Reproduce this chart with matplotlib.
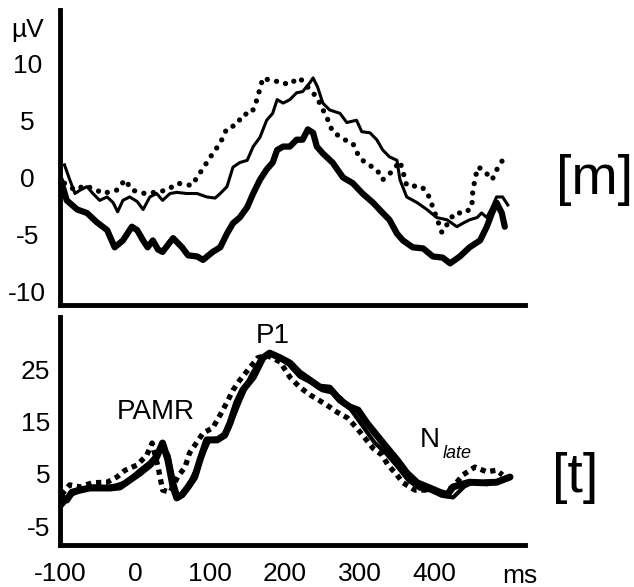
import numpy as np
import matplotlib
matplotlib.use("Agg")
import matplotlib.pyplot as plt

plt.rcParams['font.family'] = ['Liberation Sans', 'DejaVu Sans']

# ---- panel [m] (uV) ----
m_thick_t = [-99, -91, -77, -64, -51, -37, -27, -16, -4, 3, 11, 17, 24, 31, 37, 51, 63, 71,
             83, 91, 104, 114, 123, 131, 140, 150, 158, 167, 176, 184, 190, 198, 207, 216,
             224, 231, 238, 243, 251, 264, 278, 291, 304, 318, 331, 340, 350, 358, 371,
             385, 398, 411, 421, 434, 447, 461, 470, 477, 483, 490, 494]
m_thick_v = [-0.2, -2.0, -2.8, -3.1, -3.9, -4.6, -6.1, -5.5, -4.3, -4.6, -5.5, -6.1, -5.5,
             -6.3, -6.5, -5.3, -6.1, -6.8, -6.9, -7.2, -6.5, -6.1, -4.9, -4.0, -3.5, -2.6,
             -1.4, -0.2, 0.7, 1.3, 2.4, 2.7, 2.7, 3.3, 3.3, 4.2, 3.9, 2.7, 2.1, 1.3, 0.0,
             -0.5, -1.4, -2.2, -3.1, -3.7, -4.9, -5.5, -6.1, -6.2, -6.9, -7.0, -7.5, -6.9,
             -6.1, -5.5, -4.3, -3.1, -2.2, -3.1, -4.3]

m_thin_t = [-94, -87, -80, -73, -64, -56, -47, -37, -29, -23, -16, -7, 3, 11, 20, 29, 37, 47,
            56, 69, 83, 96, 107, 114, 123, 131, 140, 150, 158, 167, 176, 184, 190, 198, 207,
            216, 224, 234, 238, 244, 251, 260, 274, 283, 296, 303, 314, 323, 331, 340, 350,
            354, 363, 377, 390, 403, 417, 430, 438, 447, 457, 463, 470, 477, 483, 491, 498]
m_thin_v = [1.1, -0.2, -1.4, -1.1, -0.8, -1.4, -2.0, -1.7, -2.2, -3.0, -2.0, -1.7, -2.1,
            -2.8, -1.7, -1.4, -2.0, -1.4, -1.3, -1.4, -1.4, -1.7, -1.8, -1.4, -0.8, 0.9,
            1.3, 1.5, 2.7, 3.5, 5.0, 5.6, 6.8, 6.5, 6.8, 7.4, 7.5, 8.3, 8.7, 7.9, 6.5, 5.9,
            5.6, 4.8, 5.0, 4.0, 3.9, 3.3, 2.4, 1.8, 1.5, -0.2, -1.7, -2.2, -2.8, -3.5,
            -3.7, -4.3, -4.0, -3.7, -3.5, -3.1, -3.5, -2.6, -1.7, -1.7, -2.4]

m_dot_t = [-94, -80, -67, -51, -43, -24, -13, -4, 13, 27, 43, 57, 76, 87, 96, 104, 114,
           123, 136, 144, 156, 163, 171, 184, 196, 204, 220, 243, 258, 264, 280, 291, 298,
           307, 323, 331, 343, 354, 358, 363, 383, 391, 398, 410, 418, 427, 441, 450, 451,
           454, 458, 465, 477, 485, 494]
m_dot_v = [-0.5, -1.1, -0.7, -1.1, -1.4, -1.1, -0.2, -1.1, -1.4, -1.3, -1.1, -0.5, -0.7,
           0.4, 1.3, 2.1, 3.0, 4.3, 4.6, 5.5, 5.6, 6.8, 8.7, 8.4, 8.4, 8.1, 8.7, 7.0, 5.0,
           4.0, 3.3, 3.0, 2.0, 1.3, 0.7, -0.2, 0.5, 1.4, 0.5, -0.7, -0.8, -1.4, -2.6,
           -4.8, -4.0, -3.1, -3.1, -2.6, -1.4, -0.2, 0.9, 0.7, -0.2, 0.9, 1.8]

# ---- panel [t] ----
t_thick_t = [-98, -91, -84, -73, -60, -47, -33, -20, -7, 7, 20, 29, 37, 44, 51, 56, 63, 71,
             80, 87, 96, 110, 120, 127, 136, 144, 158, 171, 180, 194, 207, 220, 234, 247,
             260, 274, 287, 298, 310, 323, 336, 350, 363, 377, 394, 407, 417, 425, 434,
             447, 465, 483, 501]
t_thick_v = [0.6, 0.0, 1.5, 1.9, 2.3, 2.3, 2.3, 2.5, 3.8, 5.2, 6.7, 8.2, 10.9, 7.7, 2.5,
             0.4, 1.0, 2.5, 4.4, 7.7, 11.5, 11.5, 12.4, 14.7, 18.6, 21.0, 23.5, 27.2, 28.1,
             27.2, 26.2, 24.3, 22.9, 21.6, 21.4, 19.1, 17.8, 17.2, 14.7, 12.4, 10.1, 7.7,
             5.2, 3.3, 2.3, 1.5, 1.0, 2.5, 2.9, 3.4, 3.3, 3.4, 4.4]

t_thin_t = [-97, -85, -70, -55, -40, -25, -10, 5, 20, 30, 38, 45, 52, 58, 65, 75, 88, 100,
            112, 125, 140, 155, 168, 178, 190, 205, 220, 235, 250, 262, 275, 290, 305, 320,
            335, 350, 365, 380, 395, 410, 425, 440, 455, 470, 485, 500]
t_thin_v = [-1.0, 1.0, 2.0, 2.6, 2.4, 2.8, 3.5, 5.5, 7.2, 8.8, 10.2, 8.5, 3.5, 0.6, 1.5,
            3.8, 7.8, 11.6, 11.8, 13.5, 18.8, 23.8, 27.0, 28.0, 27.4, 26.0, 23.6, 22.5,
            21.0, 20.6, 19.5, 17.0, 14.0, 11.0, 9.0, 6.5, 3.8, 2.2, 1.8, 0.8, 0.5, 2.6,
            3.6, 3.0, 3.5, 4.2]

t_dot_t = [-98, -87, -73, -57, -37, -24, -13, 3, 16, 23, 31, 37, 47, 57, 67, 73, 83, 91,
           104, 114, 123, 131, 140, 154, 164, 176, 194, 207, 220, 234, 256, 270, 284, 296,
           307, 318, 330, 338, 350, 358, 374, 394, 414, 427, 438, 454, 470, 483, 491]
t_dot_v = [1.0, 2.9, 2.5, 3.3, 3.4, 4.4, 5.7, 6.7, 8.6, 10.9, 6.3, 1.9, 1.5, 4.4, 6.3, 9.0,
           11.1, 12.8, 13.8, 16.3, 18.7, 21.0, 22.9, 25.4, 27.2, 27.7, 26.4, 23.5, 21.6,
           20.1, 18.2, 16.8, 15.7, 13.8, 11.9, 9.9, 8.6, 6.7, 4.8, 3.3, 1.9, 1.9, 1.3, 2.9,
           4.8, 6.3, 5.4, 5.7, 4.8]

m_ticks = [10, 5, 0, -5, -10]
t_ticks = [25, 15, 5, -5]
x_ticks = [-100, 0, 100, 200, 300, 400]

fig = plt.figure(figsize=(6.34, 5.87), dpi=100)
ax_m = fig.add_axes([60 / 634, 282 / 587, 465 / 634, 295 / 587])
ax_t = fig.add_axes([60 / 634, 42 / 587, 465 / 634, 228 / 587])

for ax in (ax_m, ax_t):
    for s in ('top', 'right'):
        ax.spines[s].set_visible(False)
    for s in ('left', 'bottom'):
        ax.spines[s].set_linewidth(3.5)
    ax.set_xlim(-100, 521)
    ax.tick_params(length=0, labelsize=19)

dots_m = dict(color='black', lw=3.8, linestyle=(0, (0.01, 1.8)), dash_capstyle='round')
ax_m.plot(m_thick_t, m_thick_v, color='black', lw=4.5, solid_joinstyle='round',
          solid_capstyle='round')
ax_m.plot(m_thin_t, m_thin_v, color='black', lw=2.2, solid_joinstyle='round')
ax_m.plot(m_dot_t, m_dot_v, **dots_m)
ax_m.set_ylim(-11.14, 14.63)
ax_m.set_xticks([])
ax_m.set_yticks(m_ticks)
ax_m.set_yticklabels([str(v) for v in m_ticks])
ax_m.tick_params(axis='y', pad=23.5)
for lbl in ax_m.get_yticklabels():
    lbl.set_horizontalalignment('center')

ax_t.plot(t_dot_t, t_dot_v, color='black', lw=3.8, linestyle=(0, (1, 0.9)),
          dash_capstyle='butt')
ax_t.plot(t_thick_t, t_thick_v, color='black', lw=5, solid_joinstyle='round',
          solid_capstyle='round')
ax_t.plot(t_thin_t, t_thin_v, color='black', lw=3, solid_joinstyle='round')
ax_t.set_ylim(-8.6, 35)
ax_t.set_yticks(t_ticks)
ax_t.set_yticklabels([str(v) for v in t_ticks])
ax_t.tick_params(axis='y', pad=7)
ax_t.set_xticks(x_ticks)
ax_t.set_xticklabels([str(v) for v in x_ticks])
ax_t.tick_params(axis='x', pad=12)

W, H = 634, 587
fig.text(28 / W, 1 - 30 / H, 'µV', fontsize=19, ha='center', va='center')
fig.text(520 / W, 1 - 576 / H, 'ms', fontsize=19, ha='center', va='center')
fig.text(595 / W, 1 - 180 / H, '[m]', fontsize=40, ha='center', va='center',
         family=['Liberation Sans Narrow', 'Liberation Sans'])
fig.text(575 / W, 1 - 478 / H, '[t]', fontsize=40, ha='center', va='center',
         family=['Liberation Sans Narrow', 'Liberation Sans'])
fig.text(156 / W, 1 - 412 / H, 'PAMR', fontsize=20, ha='center', va='center')
fig.text(273 / W, 1 - 336 / H, 'P1', fontsize=20, ha='center', va='center')
fig.text(430 / W, 1 - 440 / H, 'N', fontsize=20, ha='center', va='center')
fig.text(443 / W, 1 - 458 / H, 'late', fontsize=13, style='italic', ha='left',
         va='baseline')

fig.savefig('out.png', dpi=100)
